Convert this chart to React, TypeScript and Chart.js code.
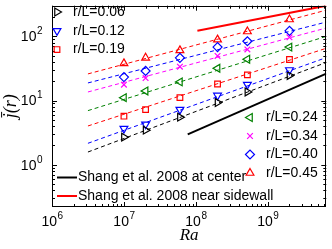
import React, { useEffect, useRef } from 'react';
import { Chart, registerables } from 'chart.js';
import { drawPoint } from 'chart.js/helpers';

Chart.register(...registerables);

// ---- data ----
const raValues = [1e7, 2e7, 6e7, 2e8, 5.2e8, 2e9];
const j006 = [2.69, 3.46, 5.51, 9.32, 13.6, 24.6];
const j012 = [3.66, 4.27, 7.22, 12.0, 17.7, 29.9];
const j019 = [5.71, 7.22, 11.1, 18.1, 25.1, 43.6];
const j024 = [11.1, 14.1, 19.5, 31.8, 44.0, 68.0];
const j034 = [17.7, 22.4, 33.7, 49.6, 62.5, 96.6];
const j040 = [23.2, 28.9, 46.3, 68.0, 83.9, 121.7];
const j045 = [37.9, 46.3, 60.4, 88.8, 119, 183];

const fitRa = [3.16e6, 6.5e9];
const fit006 = [1.58, 39.2];
const fit012 = [2.16, 46.7];
const fit019 = [4.02, 65.3];
const fit024 = [6.97, 100];
const fit034 = [13.6, 135];
const fit040 = [18.8, 167];
const fit045 = [26.0, 256];

const shangCenterRa = [7.7e7, 6.5e9];
const shangCenter = [2.98, 26.2];
const shangWallRa = [1.05e8, 6.5e9];
const shangWall = [122, 300];

const xTicks = [1e6, 1e7, 1e8, 1e9];
const yTicks = [1, 10, 100];
const xRange = [1e6, 6.5e9];
const yRange = [0.22, 300];

const seriesLabels = ['r/L=0.06', 'r/L=0.12', 'r/L=0.19', 'r/L=0.24', 'r/L=0.34', 'r/L=0.40', 'r/L=0.45'];
const shangLabels = ['Shang et al. 2008 at center', 'Shang et al. 2008 near sidewall'];

const seriesValues = [j006, j012, j019, j024, j034, j040, j045];
const fitValues = [fit006, fit012, fit019, fit024, fit034, fit040, fit045];
const seriesColors = ['#000000', '#0000ff', '#ff0000', '#008000', '#ff00ff', '#0000ff', '#ff0000'];
const seriesStyles = ['triangle', 'triangle', 'rect', 'triangle', 'crossRot', 'rectRot', 'triangle'];
const seriesRotations = [90, 180, 0, -90, 0, 0, 0];
const seriesRadius = [4.5, 4.5, 4, 4.5, 4, 4.5, 4.5];

const SANS = '"Liberation Sans", Arial, Helvetica, sans-serif';
const SERIF = '"Liberation Serif", "Times New Roman", serif';

const exponentOf = (v: number) => String(Math.round(Math.log10(v)));

const framePlugin = {
  id: 'frame',
  afterDraw(chart: any) {
    const { ctx, chartArea: a, scales } = chart;
    const xs = scales.x;
    const ys = scales.y;
    ctx.save();
    ctx.strokeStyle = '#000';
    ctx.lineWidth = 1;
    ctx.strokeRect(Math.round(a.left) + 0.5, Math.round(a.top) + 0.5, Math.round(a.right - a.left) - 1, Math.round(a.bottom - a.top) - 1);
    ctx.beginPath();
    for (let d = Math.floor(Math.log10(xRange[0])); d <= Math.ceil(Math.log10(xRange[1])); d++) {
      for (let k = 1; k <= 9; k++) {
        const v = k * Math.pow(10, d);
        if (v < xRange[0] || v > xRange[1]) continue;
        const len = k === 1 ? 5 : 3;
        const px = Math.round(xs.getPixelForValue(v)) + 0.5;
        ctx.moveTo(px, a.bottom);
        ctx.lineTo(px, a.bottom - len);
        ctx.moveTo(px, a.top);
        ctx.lineTo(px, a.top + len);
      }
    }
    for (let d = Math.floor(Math.log10(yRange[0])); d <= Math.ceil(Math.log10(yRange[1])); d++) {
      for (let k = 1; k <= 9; k++) {
        const v = k * Math.pow(10, d);
        if (v < yRange[0] || v > yRange[1]) continue;
        const len = k === 1 ? 5 : 3;
        const py = Math.round(ys.getPixelForValue(v)) + 0.5;
        ctx.moveTo(a.left, py);
        ctx.lineTo(a.left + len, py);
        ctx.moveTo(a.right, py);
        ctx.lineTo(a.right - len, py);
      }
    }
    ctx.stroke();

    // tick labels: "10" with raised exponent
    ctx.fillStyle = '#000';
    ctx.textBaseline = 'middle';
    ctx.textAlign = 'left';
    const baseFont = '14px ' + SANS;
    const expFont = '10px ' + SANS;
    const measure = (e: string) => {
      ctx.font = baseFont;
      const wb = ctx.measureText('10').width;
      ctx.font = expFont;
      const we = ctx.measureText(e).width;
      return [wb, we];
    };
    xTicks.forEach((v) => {
      const e = exponentOf(v);
      const [wb, we] = measure(e);
      const cx = xs.getPixelForValue(v);
      const x0 = cx - (wb + we) / 2;
      ctx.font = baseFont;
      ctx.fillText('10', x0, a.bottom + 15);
      ctx.font = expFont;
      ctx.fillText(e, x0 + wb + 0.5, a.bottom + 9);
    });
    yTicks.forEach((v) => {
      const e = exponentOf(v);
      const [wb, we] = measure(e);
      const cy = ys.getPixelForValue(v);
      const x0 = a.left - 10 - (wb + we);
      ctx.font = baseFont;
      ctx.fillText('10', x0, cy + 1);
      ctx.font = expFont;
      ctx.fillText(e, x0 + wb + 0.5, cy - 5);
    });

    // legends
    ctx.font = '14px ' + SANS;
    ctx.textBaseline = 'middle';
    ctx.textAlign = 'left';
    const drawMarkerEntry = (i: number, mx: number, tx: number, y: number) => {
      ctx.save();
      ctx.strokeStyle = seriesColors[i];
      ctx.fillStyle = 'rgba(0,0,0,0)';
      ctx.lineWidth = 1.2;
      drawPoint(ctx, { pointStyle: seriesStyles[i], rotation: seriesRotations[i], radius: seriesRadius[i], borderWidth: 1.2 } as any, mx, y);
      ctx.restore();
      ctx.fillStyle = '#000';
      ctx.fillText(seriesLabels[i], tx, y);
    };
    [0, 1, 2].forEach((i, r) => drawMarkerEntry(i, 57, 73, 12 + r * 18.8));
    [3, 4, 5, 6].forEach((i, r) => drawMarkerEntry(i, 250, 266, 117.5 + r * 18.5));
    const lineColors = ['#000000', '#ff0000'];
    shangLabels.forEach((lab, r) => {
      const y = 177.5 + r * 18.5;
      ctx.save();
      ctx.strokeStyle = lineColors[r];
      ctx.lineWidth = 2;
      ctx.beginPath();
      ctx.moveTo(57, y);
      ctx.lineTo(77, y);
      ctx.stroke();
      ctx.restore();
      ctx.fillStyle = '#000';
      ctx.fillText(lab, 78, y);
    });
    ctx.restore();
  },
};

export default function App() {
  const ref = useRef<HTMLCanvasElement>(null);
  useEffect(() => {
    if (!ref.current) return;
    const datasets: any[] = [];
    fitValues.forEach((fv, i) => {
      datasets.push({
        label: seriesLabels[i] + ' fit',
        data: fitRa.map((x, k) => ({ x, y: fv[k] })),
        showLine: true,
        borderColor: seriesColors[i],
        borderWidth: 1,
        borderDash: [4, 3],
        pointRadius: 0,
        fill: false,
      });
    });
    seriesValues.forEach((sv, i) => {
      datasets.push({
        label: seriesLabels[i],
        data: raValues.map((x, k) => ({ x, y: sv[k] })),
        showLine: false,
        borderColor: seriesColors[i],
        backgroundColor: 'rgba(0,0,0,0)',
        pointStyle: seriesStyles[i],
        rotation: seriesRotations[i],
        pointRadius: seriesRadius[i],
        pointBorderWidth: 1.2,
      });
    });
    datasets.push({
      label: shangLabels[0],
      data: shangCenterRa.map((x, k) => ({ x, y: shangCenter[k] })),
      showLine: true,
      borderColor: '#000000',
      borderWidth: 2,
      pointRadius: 0,
    });
    datasets.push({
      label: shangLabels[1],
      data: shangWallRa.map((x, k) => ({ x, y: shangWall[k] })),
      showLine: true,
      borderColor: '#ff0000',
      borderWidth: 2,
      pointRadius: 0,
    });

    const chart = new Chart(ref.current, {
      type: 'scatter',
      data: { datasets },
      plugins: [framePlugin],
      options: {
        animation: false,
        responsive: false,
        devicePixelRatio: 1,
        layout: { padding: { left: 0, top: 1, right: 3, bottom: 0 } },
        plugins: { legend: { display: false }, tooltip: { enabled: false } },
        scales: {
          x: {
            type: 'logarithmic',
            min: xRange[0],
            max: xRange[1],
            grid: { display: false },
            border: { display: false },
            afterBuildTicks: (s: any) => {
              s.ticks = xTicks.map((v) => ({ value: v }));
            },
            afterFit: (s: any) => {
              s.height = 42;
            },
            ticks: { display: false },
            title: {
              display: true,
              text: 'Ra',
              color: '#000',
              font: { family: SERIF, style: 'italic', size: 17 },
              padding: { top: 0, bottom: 3 },
            },
          },
          y: {
            type: 'logarithmic',
            min: yRange[0],
            max: yRange[1],
            grid: { display: false },
            border: { display: false },
            afterBuildTicks: (s: any) => {
              s.ticks = yTicks.map((v) => ({ value: v }));
            },
            afterFit: (s: any) => {
              s.width = 52;
            },
            ticks: { display: false },
            title: {
              display: true,
              text: 'j̄(r)',
              color: '#000',
              font: { family: SERIF, style: 'italic', size: 18 },
              padding: { top: 0, bottom: 0 },
            },
          },
        },
      } as any,
    });
    return () => chart.destroy();
  }, []);

  return (
    <div style={{ position: 'absolute', left: 0, top: 0, width: 332, height: 249 }}>
      <canvas ref={ref} width={332} height={249} style={{ display: 'block' }} />
    </div>
  );
}
